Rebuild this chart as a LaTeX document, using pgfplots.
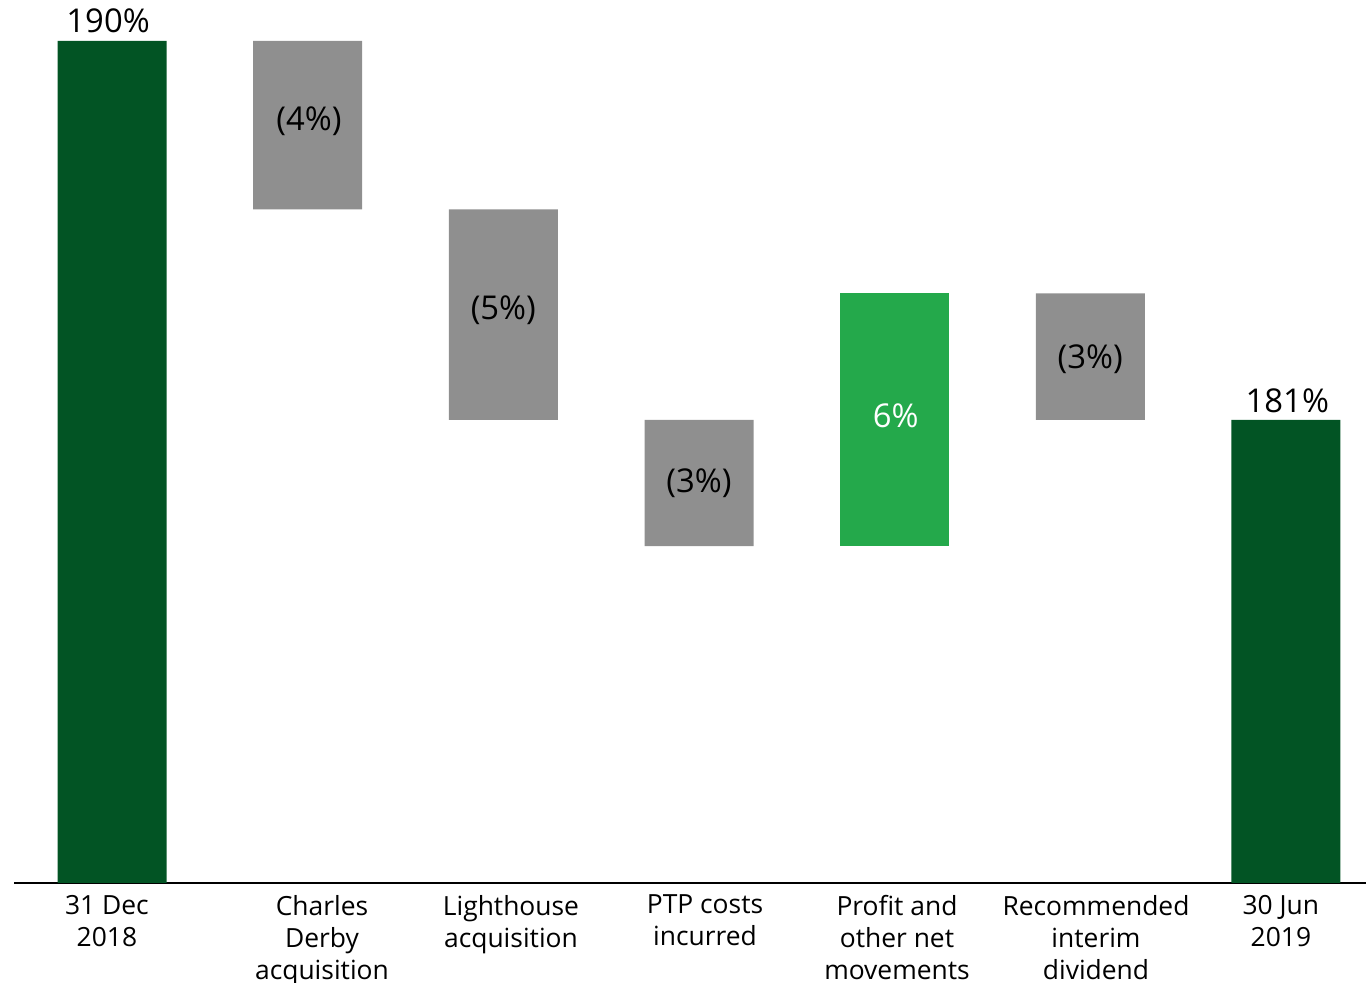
\documentclass[border=0pt]{standalone}
\usepackage{pgfplots}
\pgfplotsset{compat=1.18}
\usepackage{fontspec}
\setmainfont{Open Sans}
\definecolor{dkgreen}{RGB}{2,84,36}
\definecolor{ltgreen}{RGB}{36,169,75}
\definecolor{wfgrey}{RGB}{143,143,143}
\begin{document}
\begin{tikzpicture}
\pgfplotsset{
  common/.style={
    scale only axis, width=676pt, height=441.5pt,
    xmin=-0.501, xmax=6.409, ymin=170, ymax=190.974,
  }
}
\begin{axis}[
  common,
  ybar stacked, bar width=54.5pt,
  axis y line=none, axis x line=bottom,
  axis line style={-, line width=1pt, black},
  xtick={-0.026,1.073,2.039,3.031,4.012,5.029,5.974},
  xticklabels={31 Dec\\2018, Charles\\Derby\\acquisition, Lighthouse\\acquisition, PTP costs\\incurred, Profit and\\other net\\movements, Recommended\\interim\\dividend, 30 Jun\\2019},
  major tick length=0pt,
  xticklabel style={align=center, font=\fontsize{13.2}{16}\selectfont, text=black, yshift=-2.5pt},
]
\addplot[draw=none, fill=none] coordinates {(0,0)(1,186)(2,181)(3,178)(4,178)(5,181)(6,0)};
\addplot[draw=none, fill=dkgreen] coordinates {(0,190)(1,0)(2,0)(3,0)(4,0)(5,0)(6,181)};
\addplot[draw=none, fill=wfgrey] coordinates {(0,0)(1,4)(2,5)(3,3)(4,0)(5,3)(6,0)};
\addplot[draw=none, fill=ltgreen] coordinates {(0,0)(1,0)(2,0)(3,0)(4,6)(5,0)(6,0)};
\coordinate (ll) at (rel axis cs:0,0);
\end{axis}
\begin{axis}[common, hide axis]
\addplot[draw=none, mark=none, nodes near coords, point meta=explicit symbolic,
  every node near coord/.append style={anchor=center, font=\fontsize{16.4}{19}\selectfont, text=black}]
  coordinates {(1.007,188.1)[(4\%)] (2.0,183.6)[(5\%)] (3.0,179.5)[(3\%)] (5.0,182.43)[(3\%)]};
\addplot[draw=none, mark=none, nodes near coords, point meta=explicit symbolic,
  every node near coord/.append style={anchor=center, font=\fontsize{16.4}{19}\selectfont, text=white}]
  coordinates {(4.005,181.1)[6\%]};
\addplot[draw=none, mark=none, nodes near coords, point meta=explicit symbolic,
  every node near coord/.append style={anchor=base, inner sep=0pt, font=\fontsize{16.4}{19}\selectfont, text=black}]
  coordinates {(-0.02,190.19)[190\%] (6.007,181.17)[181\%]};
\end{axis}
\pgfresetboundingbox
\path[use as bounding box] ([shift={(-7pt,-50pt)}]ll) rectangle ([shift={(676pt,441.5pt)}]ll);
\end{tikzpicture}
\end{document}
